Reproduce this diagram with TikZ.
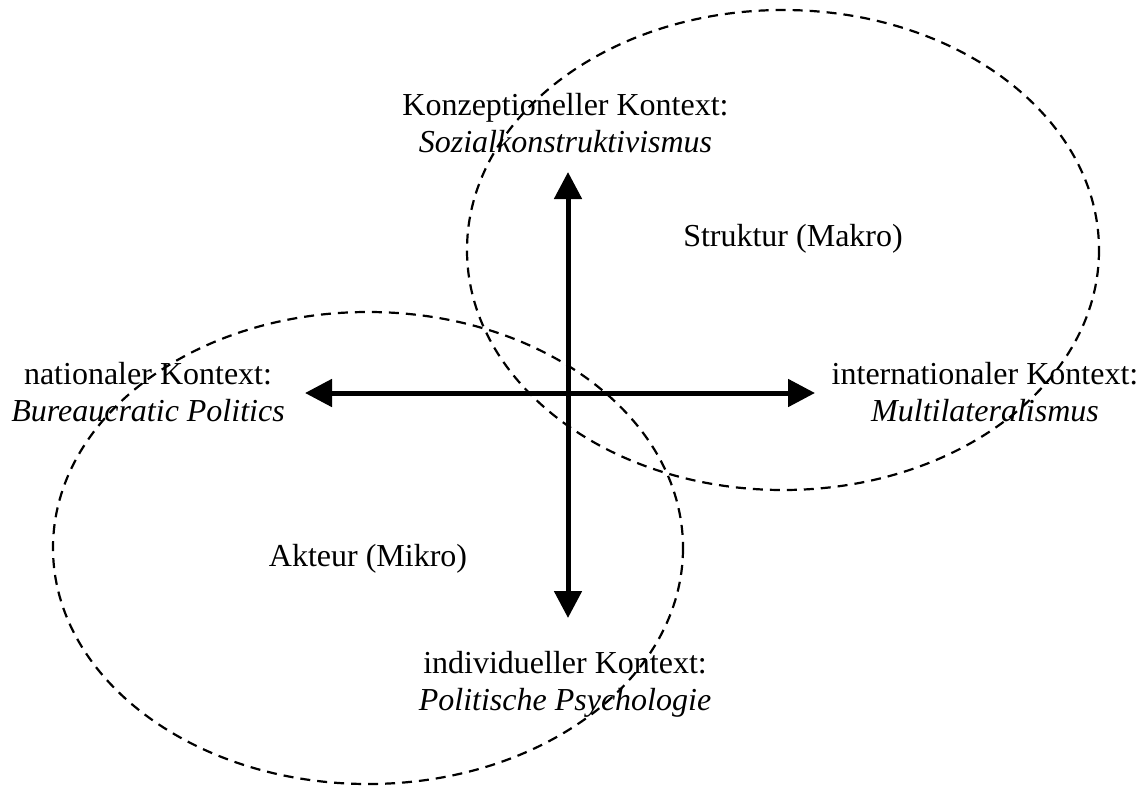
\documentclass[tikz,border=0pt]{standalone}
\usepackage{fontspec}
\setmainfont{Liberation Serif}
\usetikzlibrary{arrows.meta}
\newcommand{\twolines}[2]{\vtop{\baselineskip=37pt\tabskip=0pt\halign{\hfil##\hfil\cr #1\cr #2\cr}}}
\begin{document}
\begin{tikzpicture}[x=1pt,y=-1pt,
  lbl/.style={inner sep=0pt,anchor=base,font=\fontsize{32}{37}\selectfont},
  zone/.style={draw=black,line width=2.2pt,dash pattern=on 10pt off 7pt},
  axis/.style={line width=5pt,{Triangle[length=27pt,width=27pt]}-{Triangle[length=27pt,width=27pt]}}]
\useasboundingbox (0,0) rectangle (1147,787);
% ellipses
\draw[zone] (783,250) ellipse [x radius=316, y radius=240];
\draw[zone] (368,548) ellipse [x radius=315, y radius=236];
% arrow ends
\coordinate (up) at (568,172);
\coordinate (down) at (568,618);
\coordinate (left) at (305,393);
\coordinate (right) at (815,393);
\draw[axis] (up) -- (down);
\draw[axis] (left) -- (right);
% labels
\node[lbl] (konz) at (565.5,115) {\twolines{Konzeptioneller Kontext:}{\itshape Sozialkonstruktivismus}};
\node[lbl] (nat) at (148,384) {\twolines{nationaler Kontext:}{\itshape Bureaucratic Politics}};
\node[lbl] (intl) at (985,384) {\twolines{internationaler Kontext:}{\itshape Multilateralismus}};
\node[lbl] (indiv) at (565,673) {\twolines{individueller Kontext:}{\itshape Politische Psychologie}};
\node[lbl] (struk) at (793,246) {Struktur (Makro)};
\node[lbl] (akt) at (368,566) {Akteur (Mikro)};
\end{tikzpicture}
\end{document}
